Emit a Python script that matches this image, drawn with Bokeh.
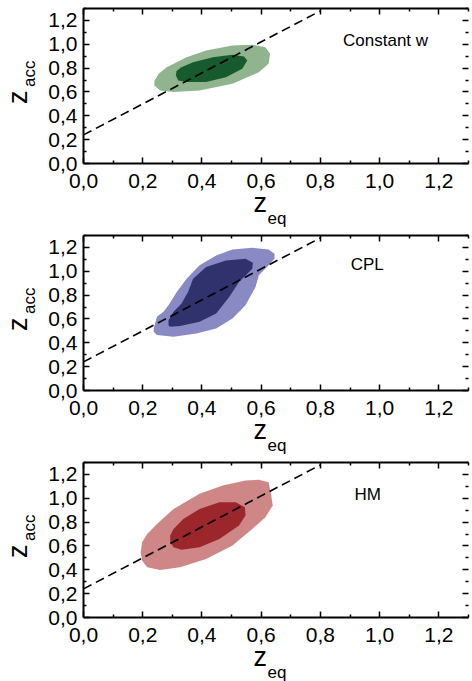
import math
from bokeh.plotting import figure
from bokeh.models import Range1d, LinearAxis, FixedTicker, Label, Title, CustomLabelingPolicy
from bokeh.layouts import column, row
from bokeh.embed import file_html
from bokeh.resources import INLINE

# ---------------- data ----------------
major_ticks = [0.0, 0.2, 0.4, 0.6, 0.8, 1.0, 1.2]
tick_labels = ["0,0", "0,2", "0,4", "0,6", "0,8", "1,0", "1,2"]
minor_ticks = [0.1, 0.3, 0.5, 0.7, 0.9, 1.1, 1.3]

line_x = [0.0, 0.8]
line_y = [0.24, 1.28]

panel_names = ["Constant w", "CPL", "HM"]

cw_outer_x = [0.239, 0.259, 0.304, 0.392, 0.503, 0.592, 0.625, 0.630, 0.614, 0.570, 0.503, 0.414, 0.348, 0.281, 0.254, 0.240]
cw_outer_y = [0.655, 0.613, 0.600, 0.613, 0.669, 0.766, 0.836, 0.920, 0.976, 0.996, 0.990, 0.948, 0.892, 0.808, 0.752, 0.697]
cw_inner_x = [0.312, 0.320, 0.348, 0.414, 0.481, 0.536, 0.553, 0.542, 0.503, 0.437, 0.370, 0.331, 0.314]
cw_inner_y = [0.738, 0.697, 0.683, 0.683, 0.724, 0.794, 0.864, 0.898, 0.912, 0.892, 0.850, 0.808, 0.775]

cpl_outer_x = [0.237, 0.248, 0.270, 0.287, 0.315, 0.348, 0.392, 0.448, 0.503, 0.570, 0.625, 0.645, 0.645, 0.625, 0.592, 0.581, 0.547, 0.503, 0.448, 0.381, 0.304, 0.248, 0.237]
cpl_outer_y = [0.521, 0.618, 0.660, 0.715, 0.827, 0.938, 1.050, 1.133, 1.183, 1.197, 1.183, 1.147, 1.105, 1.050, 0.966, 0.869, 0.715, 0.604, 0.521, 0.479, 0.451, 0.465, 0.493]
cpl_inner_x = [0.287, 0.287, 0.304, 0.331, 0.353, 0.370, 0.414, 0.481, 0.547, 0.572, 0.570, 0.525, 0.492, 0.448, 0.392, 0.326, 0.292]
cpl_inner_y = [0.548, 0.590, 0.660, 0.729, 0.827, 0.938, 1.036, 1.091, 1.105, 1.072, 1.022, 0.910, 0.785, 0.646, 0.576, 0.540, 0.535]

hm_outer_x = [0.193, 0.198, 0.215, 0.259, 0.326, 0.414, 0.503, 0.570, 0.614, 0.639, 0.634, 0.625, 0.592, 0.547, 0.470, 0.392, 0.304, 0.248, 0.215, 0.198]
hm_outer_y = [0.547, 0.477, 0.421, 0.398, 0.421, 0.491, 0.603, 0.743, 0.841, 0.939, 1.023, 1.135, 1.155, 1.149, 1.107, 1.037, 0.911, 0.785, 0.701, 0.631]
hm_inner_x = [0.293, 0.304, 0.331, 0.392, 0.459, 0.525, 0.547, 0.545, 0.514, 0.459, 0.392, 0.337, 0.304, 0.293]
hm_inner_y = [0.631, 0.589, 0.569, 0.589, 0.659, 0.771, 0.855, 0.925, 0.967, 0.967, 0.911, 0.827, 0.743, 0.687]

FONT = "Liberation Sans"
LAB_W = 45          # strip carrying the rotated y title
FIG_W = 472
BLOCK_H = 227

HIDE_LABELS = CustomLabelingPolicy(code="""
for (let i = 0; i < indices.size; i++) { indices.unset(i) }
return indices
""")


def style_axis(ax, labels=True):
    ax.ticker = FixedTicker(ticks=major_ticks, minor_ticks=minor_ticks)
    ax.major_tick_in = 6
    ax.major_tick_out = 0
    ax.minor_tick_in = 3
    ax.minor_tick_out = 0
    ax.major_tick_line_width = 1.5
    ax.minor_tick_line_width = 1.5
    ax.axis_line_width = 2
    ax.axis_line_color = "black"
    ax.major_tick_line_color = "black"
    ax.minor_tick_line_color = "black"
    if labels:
        ax.major_label_overrides = {t: s for t, s in zip(major_ticks, tick_labels)}
        ax.major_label_text_font = FONT
        ax.major_label_text_font_size = "21px"
        ax.major_label_text_color = "black"
    else:
        ax.major_label_text_font_size = "1px"
        ax.major_label_standoff = 0
        ax.major_label_policy = HIDE_LABELS


def mk_title(text, size, offset, standoff):
    return Title(text=text, align="left", offset=offset, standoff=standoff,
                 text_font=FONT, text_font_size=size, text_font_style="normal",
                 text_color="black")


def ylabel_strip(h):
    s = figure(width=LAB_W, height=h, x_range=Range1d(0, LAB_W), y_range=Range1d(0, h),
               x_axis_type=None, y_axis_type=None, output_backend="svg",
               toolbar_location=None, min_border=0)
    s.outline_line_color = None
    s.border_fill_color = "white"
    s.background_fill_color = "white"
    s.add_layout(Label(x=17.5, y=h - 140, text="z", text_font=FONT, text_font_size="27px",
                       angle=math.pi / 2, text_align="left", text_baseline="alphabetic",
                       text_color="black"))
    s.add_layout(Label(x=28.5, y=h - 115, text="acc", text_font=FONT, text_font_size="17px",
                       angle=math.pi / 2, text_align="left", text_baseline="alphabetic",
                       text_color="black"))
    return s


def make_panel(name, ox, oy, ix, iy, c_out, c_in, tx, ty):
    p = figure(width=FIG_W - LAB_W, height=BLOCK_H, x_range=Range1d(0, 1.3), y_range=Range1d(0, 1.3),
               output_backend="svg", toolbar_location=None,
               min_border_left=37, min_border_right=0, min_border_top=8, min_border_bottom=64)
    p.outline_line_color = None
    p.grid.visible = False
    p.background_fill_color = "white"
    p.border_fill_color = "white"

    p.patch(ox, oy, fill_color=c_out, line_color=None)
    p.patch(ix, iy, fill_color=c_in, line_color=None)
    p.line(line_x, line_y, line_color="black", line_width=1.6, line_dash="9 5")

    style_axis(p.xaxis[0])
    style_axis(p.yaxis[0])
    p.xaxis[0].major_label_standoff = 10
    p.yaxis[0].major_label_standoff = 6

    top = LinearAxis()
    style_axis(top, labels=False)
    p.add_layout(top, "above")
    right = LinearAxis()
    style_axis(right, labels=False)
    right.axis_line_color = None
    p.add_layout(right, "right")

    p.add_layout(Label(x=tx, y=ty, text=name, text_font=FONT, text_font_size="17px",
                       text_align="center", text_baseline="alphabetic", text_color="black"))

    # x title z_eq as two stacked titles below the axis
    p.add_layout(mk_title("z", "27px", 170, -9), "below")
    p.add_layout(mk_title("eq", "17px", 184, -14), "below")
    return row(ylabel_strip(BLOCK_H), p, spacing=0)


r1 = make_panel(panel_names[0], cw_outer_x, cw_outer_y, cw_inner_x, cw_inner_y,
                "#8fb48e", "#175a2e", 1.02, 1.034)
r2 = make_panel(panel_names[1], cpl_outer_x, cpl_outer_y, cpl_inner_x, cpl_inner_y,
                "#8989c4", "#30326e", 0.958, 1.056)
r3 = make_panel(panel_names[2], hm_outer_x, hm_outer_y, hm_inner_x, hm_inner_y,
                "#cf8686", "#9b262b", 0.96, 1.03)

layout = column(r1, r2, r3, spacing=0)
open("out.html", "w").write(file_html(layout, INLINE))
